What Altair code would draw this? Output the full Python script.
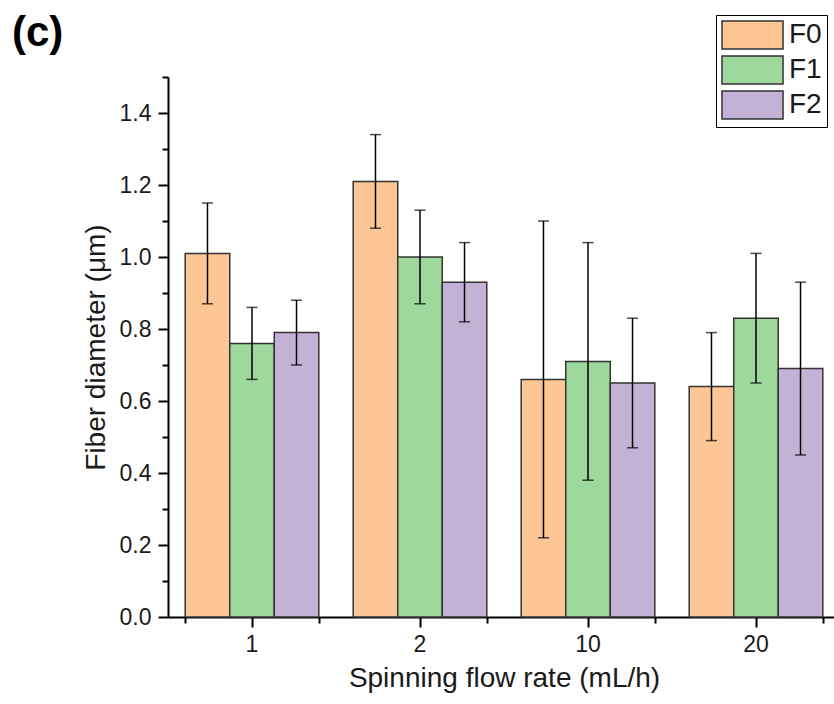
import altair as alt
import pandas as pd

rates = ["1", "2", "10", "20"]
groups = ["F0", "F1", "F2"]
f0_mean = [1.01, 1.21, 0.66, 0.64]
f0_err = [0.14, 0.13, 0.44, 0.15]
f1_mean = [0.76, 1.00, 0.71, 0.83]
f1_err = [0.10, 0.13, 0.33, 0.18]
f2_mean = [0.79, 0.93, 0.65, 0.69]
f2_err = [0.09, 0.11, 0.18, 0.24]
colors = ["#FCC794", "#9FD89C", "#C3B2D6"]
y_major = [0.0, 0.2, 0.4, 0.6, 0.8, 1.0, 1.2, 1.4]
y_minor = [0.1, 0.3, 0.5, 0.7, 0.9, 1.1, 1.3, 1.5]

rows = []
for g, means, errs in zip(groups, [f0_mean, f1_mean, f2_mean], [f0_err, f1_err, f2_err]):
    for r, m, e in zip(rates, means, errs):
        rows.append({"rate": r, "group": g, "mean": m, "lo": m - e, "hi": m + e})
df = pd.DataFrame(rows)

FONT = "Liberation Sans"
xscale = alt.Scale(domain=rates, range=[0, 672], paddingInner=0.205, paddingOuter=0.1025)
yscale = alt.Scale(domain=[0, 1.5], nice=False, zero=True)

x_main_axis = alt.Axis(
    orient="bottom", title="Spinning flow rate (mL/h)", labelAngle=0,
    tickSize=10, tickWidth=2, domainWidth=2, domainColor="black", tickColor="black",
    labelFontSize=23, titleFontSize=28, labelPadding=6, titlePadding=8,
    labelColor="#1a1a1a", titleColor="#1a1a1a", titleFontWeight="normal",
    labelFont=FONT, titleFont=FONT, grid=False,
)
x_minor_axis = alt.Axis(
    orient="bottom", title=None, labels=False, domain=False, tickBand="extent",
    tickSize=6, tickWidth=2, tickColor="black", grid=False,
)
y_main_axis = alt.Axis(
    orient="left", title="Fiber diameter (μm)", values=y_major, format=".1f",
    tickSize=10, tickWidth=2, domainWidth=2, domainColor="black", tickColor="black",
    labelFontSize=23, titleFontSize=28, labelPadding=7, titlePadding=9,
    labelColor="#1a1a1a", titleColor="#1a1a1a", titleFontWeight="normal",
    labelFont=FONT, titleFont=FONT, grid=False,
)
y_minor_axis = alt.Axis(
    orient="left", title=None, labels=False, domain=False, values=y_minor,
    tickSize=6, tickWidth=2, tickColor="black", grid=False,
)

base = alt.Chart(df)

bars = base.mark_bar(stroke="#333333", strokeWidth=1.5).encode(
    x=alt.X("rate:N", sort=rates, scale=xscale, axis=x_main_axis),
    xOffset=alt.XOffset("group:N", sort=groups),
    y=alt.Y("mean:Q", scale=yscale, axis=y_main_axis),
    color=alt.Color(
        "group:N", sort=groups,
        scale=alt.Scale(domain=groups, range=colors),
        legend=alt.Legend(
            orient="none", legendX=548, legendY=-62, title=None,
            symbolType="M-1,-1L3.36,-1L3.36,1L-1,1Z", symbolSize=784,
            symbolStrokeColor="#333333", symbolStrokeWidth=1.5, symbolOpacity=1,
            labelFontSize=28, labelFont=FONT, labelColor="#1a1a1a", labelOffset=38,
            strokeColor="black", padding=5, rowPadding=1, cornerRadius=0,
        ),
    ),
)

err = base.mark_rule(color="black", strokeWidth=1.5).encode(
    x=alt.X("rate:N", sort=rates, scale=xscale, axis=x_minor_axis),
    xOffset=alt.XOffset("group:N", sort=groups),
    y=alt.Y("lo:Q", scale=yscale, axis=y_minor_axis),
    y2="hi:Q",
)
cap_hi = base.mark_tick(color="black", thickness=1.5, size=11).encode(
    x=alt.X("rate:N", sort=rates, scale=xscale, axis=None),
    xOffset=alt.XOffset("group:N", sort=groups),
    y=alt.Y("hi:Q", scale=yscale, axis=None),
)
cap_lo = base.mark_tick(color="black", thickness=1.5, size=11).encode(
    x=alt.X("rate:N", sort=rates, scale=xscale, axis=None),
    xOffset=alt.XOffset("group:N", sort=groups),
    y=alt.Y("lo:Q", scale=yscale, axis=None),
)

chart = alt.layer(bars, err, cap_hi, cap_lo).resolve_axis(
    x="independent", y="independent"
).properties(
    width=666, height=540,
    autosize=alt.AutoSizeParams(type="none"),
    padding={"left": 168, "top": 77, "right": 0, "bottom": 87},
    view=alt.ViewBackground(stroke="transparent", strokeWidth=0),
    title=alt.TitleParams("(c)", anchor="start", fontSize=42, fontWeight="bold",
                          font=FONT, color="black", dx=-156, dy=44, frame="group"),
).configure_view(
    stroke="transparent", strokeWidth=0
).configure_axis(
    grid=False
).configure(background="white")

chart.save("out.html", embed_options={"renderer": "svg", "actions": False})
